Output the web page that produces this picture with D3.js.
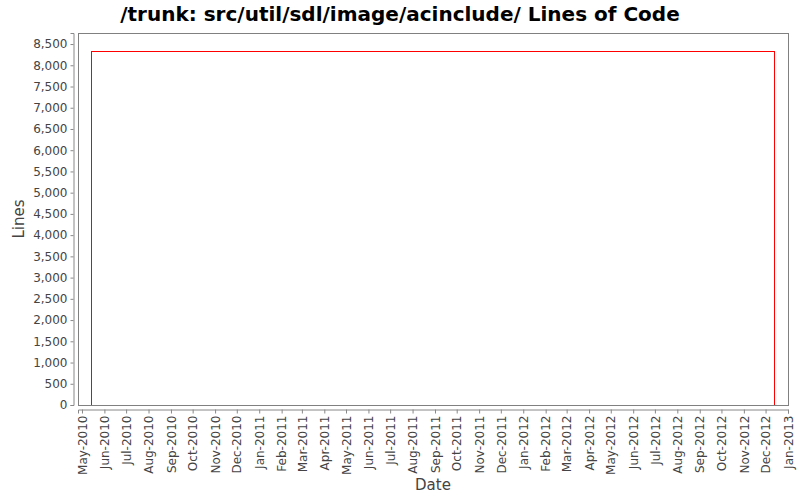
<!DOCTYPE html>
<html>
<head>
<meta charset="utf-8">
<script src="https://cdn.jsdelivr.net/npm/d3@7"></script>
<style>
  body { margin: 0; background: #fff; }
  text { font-family: "DejaVu Sans", sans-serif; }
</style>
</head>
<body>
<div id="chart"></div>
<script>
// data
const dates = ['2010-05-14', '2010-05-14', '2012-12-13'];
const lines = [0, 8330, 0];
const yTicks = d3.range(0, 8501, 500);

const width = 800;
const height = 500;
const plot = { left: 78, right: 788, top: 33, bottom: 405 };

const parse = d3.timeParse('%Y-%m-%d');
const data = dates.map((d, i) => ({ date: parse(d), value: lines[i] }));

const x = d3.scaleTime()
  .domain([new Date(2010, 3, 25, 12), new Date(2013, 0, 1)])
  .range([plot.left, plot.right]);

const y = d3.scaleLinear()
  .domain([0, 8760])
  .range([plot.bottom, plot.top]);

const svg = d3.select('#chart')
  .append('svg')
  .attr('width', width)
  .attr('height', height);

svg.append('rect')
  .attr('width', width)
  .attr('height', height)
  .attr('fill', '#fff');

// title
svg.append('text')
  .attr('x', width / 2)
  .attr('y', 21)
  .attr('text-anchor', 'middle')
  .attr('font-size', 20)
  .attr('font-weight', 'bold')
  .attr('fill', '#000')
  .text('/trunk: src/util/sdl/image/acinclude/ Lines of Code');

// plot frame
svg.append('rect')
  .attr('x', plot.left + 0.5)
  .attr('y', plot.top + 0.5)
  .attr('width', plot.right - plot.left)
  .attr('height', plot.bottom - plot.top)
  .attr('fill', '#fff')
  .attr('stroke', '#808080')
  .attr('stroke-width', 1);

// y axis
const yAxis = svg.append('g')
  .attr('transform', `translate(${plot.left - 4.5},0)`)
  .call(d3.axisLeft(y)
    .tickValues(yTicks)
    .tickSize(3)
    .tickPadding(3)
    .tickFormat(d3.format(',')));

// x axis
const xAxis = svg.append('g')
  .attr('transform', `translate(0,${plot.bottom + 4.5})`)
  .call(d3.axisBottom(x)
    .ticks(d3.timeMonth.every(1))
    .tickSize(4)
    .tickFormat(d3.timeFormat('%b-%Y')));

xAxis.selectAll('.tick text')
  .attr('transform', 'rotate(-90)')
  .attr('text-anchor', 'end')
  .attr('x', -6)
  .attr('y', 0)
  .attr('dy', '0.35em');

[yAxis, xAxis].forEach(a => {
  a.select('.domain').attr('stroke', '#888');
  a.selectAll('.tick line').attr('stroke', '#888');
  a.selectAll('.tick text')
    .attr('fill', '#444')
    .attr('font-size', 12)
    .attr('font-family', '"DejaVu Sans", sans-serif');
});

// axis labels
svg.append('text')
  .attr('transform', `translate(24,${(plot.top + plot.bottom) / 2}) rotate(-90)`)
  .attr('text-anchor', 'middle')
  .attr('font-size', 15)
  .attr('fill', '#444')
  .text('Lines');

svg.append('text')
  .attr('x', (plot.left + plot.right) / 2)
  .attr('y', 490)
  .attr('text-anchor', 'middle')
  .attr('font-size', 15)
  .attr('fill', '#444')
  .text('Date');

// the series
const line = d3.line()
  .x(d => x(d.date))
  .y(d => y(d.value))
  .curve(d3.curveStepAfter);

svg.append('path')
  .datum(data)
  .attr('fill', 'none')
  .attr('stroke', '#ff0000')
  .attr('stroke-width', 1)
  .attr('shape-rendering', 'crispEdges')
  .attr('d', line);
</script>
</body>
</html>
